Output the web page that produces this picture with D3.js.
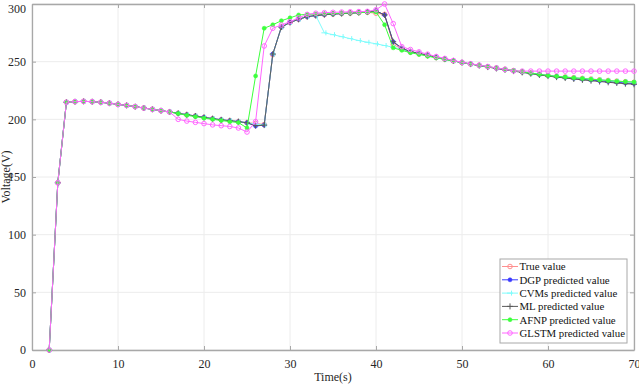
<!DOCTYPE html>
<html><head><meta charset="utf-8">
<script src="https://cdn.jsdelivr.net/npm/d3@7"></script>
<style>body{margin:0;background:#fff}svg{display:block}svg text{font-family:"Liberation Serif","Times New Roman","DejaVu Serif",serif !important}</style>
</head><body><svg id="c" width="639" height="384"></svg>
<script>
const time = [2,3,4,5,6,7,8,9,10,11,12,13,14,15,16,17,18,19,20,21,22,23,24,25,26,27,28,29,30,31,32,33,34,35,36,37,38,39,40,41,42,43,44,45,46,47,48,49,50,51,52,53,54,55,56,57,58,59,60,61,62,63,64,65,66,67,68,69,70];
const trueValue = [0,145,214.8,215.3,215.6,215.3,214.8,214,213,212.1,211,209.8,208.7,207.5,206.4,205.2,204,202.9,201.7,200.6,199.6,198.8,198,197,196.5,195.5,256,280,284,286.7,289,290,290.8,291.3,291.7,292.1,292.5,292.8,292,291,265,261,258.3,256.8,255.2,253.6,252.1,250.6,249.2,248,246.8,245.6,244.5,243.4,242.3,241.2,240.1,239,238,237.3,236.7,236.1,235.5,234.9,234.3,233.7,233.1,232.6,232.1];
const dgp = [0,145,214.8,215.3,215.6,215.3,214.8,214,213,212.1,211,209.8,208.7,207.5,206.4,205.2,204,202.9,201.7,200.6,199.6,198.8,198,197,194.2,195,256.6,280,284,286.7,289,290,290.8,291.3,291.7,292.1,292.5,293,294,290.5,267.3,261.6,258.7,257.2,255.5,253.8,252.2,250.7,249.2,248,246.7,245.5,244.3,243.2,242.1,241,239.9,238.9,237.9,237.1,236.3,235.5,234.8,234.1,233.4,232.7,232.1,231.5,231];
const cvms = [0,145,214.8,215.3,215.6,215.3,214.8,214,213,212.1,211,209.8,208.7,207.5,206.4,205.2,204,202.9,201.7,200.6,199.6,198.8,198,197,196,195.2,256.4,280,284,286.7,289,290,275,273.4,271.7,270,268.3,266.8,265.5,264,262.5,261,258.3,256.8,255.2,253.6,252.1,250.6,249.2,248,246.8,245.6,244.5,243.4,242.3,241.2,240.1,239,238,237.3,236.7,236.1,235.5,234.9,234.3,233.7,233.1,232.6,232.1];
const ml = [0,145,214.8,215.3,215.6,215.3,214.8,214,213,212.1,211,209.8,208.7,207.5,206.4,205.2,204,202.9,201.7,200.6,199.6,198.8,198,197,194.5,195,256.6,280,284,286.7,289,290,290.8,291.3,291.7,292.1,292.5,293,294,290.5,267.3,261.6,258.7,257.2,255.5,253.8,252.2,250.7,249.2,247.9,246.6,245.3,244.1,242.9,241.8,240.7,239.6,238.5,237.5,236.6,235.8,235,234.2,233.5,232.8,232.1,231.5,230.9,230.4];
const afnp = [0,145,214.8,215.3,215.6,215.3,214.8,214,213,212.1,211,209.8,208.7,207.5,206.4,205,203.5,202.3,201,200,199,198,197.2,192.5,237.6,279,282,285.5,288,290.5,291,291.3,291.5,291.7,292,292.2,292.5,292.8,293,282,262,259.8,257.8,256.3,254.8,253.3,252,250.6,249.3,248,246.8,245.6,244.5,243.4,242.3,241.2,240.1,239,238,237.3,236.6,236,235.4,234.8,234.2,233.6,233.1,232.7,232.3];
const glstm = [0,145,214.8,215.3,215.6,215.3,214.8,214,213,212.1,211,209.8,208.7,207.5,206.4,200,198.5,197.4,196.3,195.2,194.5,193.8,192.5,189,198,263.6,279,281.8,284.7,288,291,292,292.5,292.8,293,293.2,293.4,293.6,295,300,283,263,260.5,258.5,256.5,254.5,252.8,251,249.5,248.2,247,245.8,244.6,243.4,242,241.8,241.8,241.8,241.8,241.8,241.8,241.8,241.8,241.8,241.8,241.8,241.8,241.8,241.8];
const seriesNames = ["True value","DGP predicted value","CVMs predicted value","ML predicted value","AFNP predicted value","GLSTM predicted value"];
const seriesColors = ["#ff8f8f","#3a3aff","#7ffcfc","#5a5a5a","#3cff3c","#ff66ff"];
const seriesMarkers = ["circle","dot","cross","plus","dot","circle"];
const seriesData = [trueValue,dgp,cvms,ml,afnp,glstm];
const xTicks = [0,10,20,30,40,50,60,70];
const yTicks = [0,50,100,150,200,250,300];

const FONT = '"Liberation Serif","Times New Roman","DejaVu Serif",serif';
const svg = d3.select("#c");
const L=32,R=634,T=4,B=350;
const x = d3.scaleLinear().domain([0,70]).range([L,R]);
const y = d3.scaleLinear().domain([0,300]).range([B,T]);

// grid
svg.append("g").selectAll("line").data(xTicks).join("line")
  .attr("x1",d=>x(d)).attr("x2",d=>x(d)).attr("y1",T).attr("y2",B)
  .attr("stroke","#ececec").attr("stroke-width",1);
svg.append("g").selectAll("line").data(yTicks).join("line")
  .attr("x1",L).attr("x2",R).attr("y1",d=>y(d)).attr("y2",d=>y(d))
  .attr("stroke","#ececec").attr("stroke-width",1);

// axes
const fs = 12;
const xa = svg.append("g").attr("transform",`translate(0,${B})`)
  .call(d3.axisBottom(x).tickValues(xTicks).tickSizeInner(-4).tickSizeOuter(0).tickPadding(9));
const ya = svg.append("g").attr("transform",`translate(${L},0)`)
  .call(d3.axisLeft(y).tickValues(yTicks).tickSizeInner(-4).tickSizeOuter(0).tickPadding(6));
const xt = svg.append("g").attr("transform",`translate(0,${T})`)
  .call(d3.axisTop(x).tickValues(xTicks).tickSizeInner(-4).tickSizeOuter(0).tickFormat(""));
const yr = svg.append("g").attr("transform",`translate(${R},0)`)
  .call(d3.axisRight(y).tickValues(yTicks).tickSizeInner(-4).tickSizeOuter(0).tickFormat(""));
[xa,ya,xt,yr].forEach(g=>{
  g.attr("font-family",FONT);
  g.select(".domain").attr("stroke","#a8a8a8").attr("stroke-width",1.3);
  g.selectAll(".tick line").attr("stroke","#a8a8a8");
  g.selectAll("text").attr("font-size",fs).attr("fill","#262626");
});
// keep the top label inside the picture
ya.selectAll(".tick text").filter(d=>d===300).attr("dy","0.7em");

svg.append("text").attr("x",333).attr("y",381).attr("text-anchor","middle")
  .attr("font-family",FONT).attr("font-size",12).attr("fill","#262626").text("Time(s)");
svg.append("text").attr("transform","translate(10,177) rotate(-90)").attr("text-anchor","middle")
  .attr("font-family",FONT).attr("font-size",12).attr("fill","#262626").text("Voltage(V)");

// series
const line = d3.line().x((d,i)=>x(time[i])).y(d=>y(d));
function marker(g, type, color, cx, cy){
  if(type==="circle") g.append("circle").attr("cx",cx).attr("cy",cy).attr("r",2.3).attr("fill","none").attr("stroke",color).attr("stroke-width",1);
  else if(type==="dot") g.append("circle").attr("cx",cx).attr("cy",cy).attr("r",2).attr("fill",color).attr("stroke",color).attr("stroke-width",0.6);
  else if(type==="plus") g.append("path").attr("d",`M${cx-3},${cy}H${cx+3}M${cx},${cy-3}V${cy+3}`).attr("stroke",color).attr("stroke-width",1).attr("fill","none");
  else if(type==="cross") g.append("path").attr("d",`M${cx-3},${cy}H${cx+3}M${cx+1.5},${cy-2.5}V${cy+2.5}`).attr("stroke",color).attr("stroke-width",1).attr("fill","none");
}
seriesData.forEach((vals,k)=>{
  const g = svg.append("g");
  g.append("path").datum(vals).attr("d",line).attr("fill","none")
    .attr("stroke",seriesColors[k]).attr("stroke-width",1);
  vals.forEach((v,i)=>marker(g, seriesMarkers[k], seriesColors[k], x(time[i]), y(v)));
});

// legend
const lg = svg.append("g");
lg.append("rect").attr("x",500).attr("y",259).attr("width",127).attr("height",84)
  .attr("fill","#fff").attr("stroke","#a8a8a8").attr("stroke-width",1);
seriesNames.forEach((n,k)=>{
  const yy = 266.5 + k*13.3;
  lg.append("line").attr("x1",502).attr("x2",518).attr("y1",yy).attr("y2",yy)
    .attr("stroke",seriesColors[k]).attr("stroke-width",1);
  marker(lg, seriesMarkers[k], seriesColors[k], 510, yy);
  lg.append("text").attr("x",519.5).attr("y",yy+3.8).attr("font-family",FONT).attr("font-size",10.8)
    .attr("fill","#111").text(n);
});
</script></body></html>
